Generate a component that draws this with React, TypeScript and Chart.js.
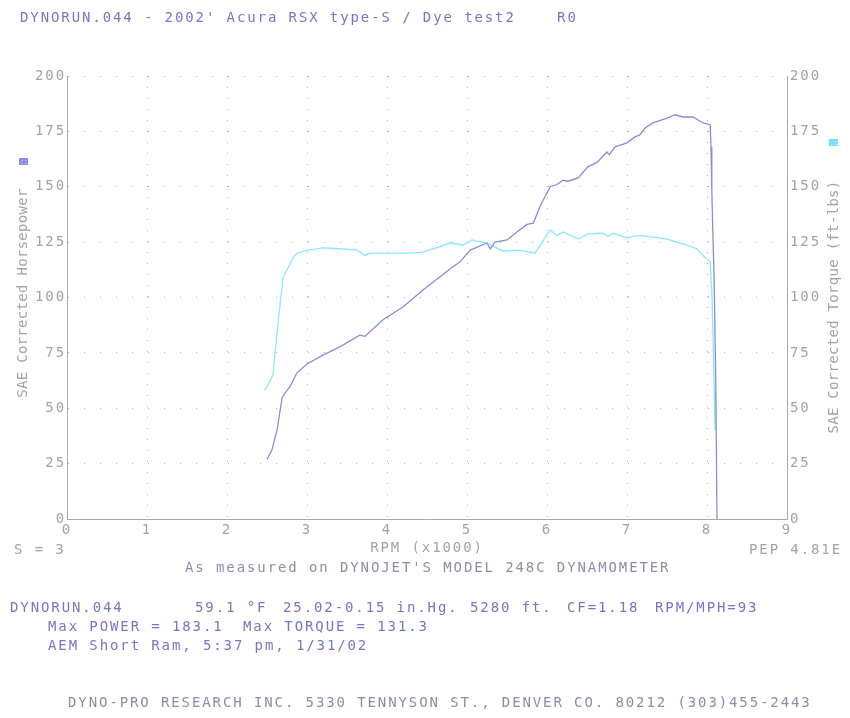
import React, { useEffect, useRef } from "react";
import { Chart, registerables } from "chart.js";

Chart.register(...registerables);

// ---- data (RPM in thousands) ----
const hpRpm = [2.5, 2.56, 2.625, 2.69, 2.79, 2.875, 3.0, 3.2, 3.41, 3.66, 3.725, 3.95, 4.2, 4.45, 4.79, 4.91, 5.04, 5.25, 5.29, 5.35, 5.5, 5.625, 5.75, 5.83, 5.91, 6.04, 6.125, 6.2, 6.26, 6.39, 6.51, 6.625, 6.75, 6.78, 6.85, 7.0, 7.1, 7.16, 7.225, 7.325, 7.5, 7.6, 7.7, 7.825, 7.94, 8.01, 8.04, 8.05, 8.06, 8.075, 8.09, 8.11, 8.125];
const hpValues = [27, 31, 40, 55, 60, 66, 70, 74, 77.7, 83, 82.5, 90, 95.7, 103.4, 113, 116, 121.4, 124.6, 122, 125, 126, 129.6, 133, 133.6, 141, 150, 151, 153, 152.5, 154, 159, 161, 165.7, 164.5, 168, 169.8, 172.5, 173.4, 176.5, 178.8, 181, 182.5, 181.5, 181.5, 179, 178.3, 178, 168, 148.5, 127, 107, 61, 0];

const tqRpm = [2.475, 2.575, 2.625, 2.7, 2.825, 2.875, 3.01, 3.2, 3.41, 3.625, 3.725, 3.79, 4.0, 4.29, 4.45, 4.575, 4.79, 4.95, 5.06, 5.25, 5.45, 5.66, 5.85, 6.04, 6.125, 6.2, 6.39, 6.51, 6.7, 6.76, 6.825, 7.0, 7.1, 7.2, 7.325, 7.5, 7.625, 7.75, 7.875, 7.975, 8.04, 8.06, 8.075, 8.09, 8.1];
const tqValues = [58, 65, 84, 109, 118, 120, 121.4, 122.4, 122, 121.4, 119, 120, 120, 120, 120.5, 122, 124.6, 123.7, 126, 124.6, 121, 121.4, 120, 130.5, 128, 129.6, 126.4, 128.7, 129, 127.5, 129, 126.9, 127.8, 127.8, 127.3, 126.4, 125, 123.7, 121.9, 118, 116, 103, 84, 58, 40];

const rpmMin = 0;
const rpmMax = 9;
const rpmStep = 1;
const yMin = 0;
const yMax = 200;
const yStep = 25;

const leftTitle = "SAE Corrected Horsepower";
const rightTitle = "SAE Corrected Torque (ft-lbs)";
const xTitle = "RPM (x1000)";

const FONT = '"DejaVu Sans Mono", monospace';
const GRAY = "#a2a2aa";
const BLUE = "#7676c8";

const textBase: React.CSSProperties = {
  position: "absolute",
  fontFamily: FONT,
  fontSize: "14px",
  lineHeight: "14px",
  letterSpacing: "1.9px",
  whiteSpace: "pre",
  color: BLUE,
};

function T({ x, y, c, s }: { x: number; y: number; c?: string; s: string }) {
  return <div style={{ ...textBase, left: x, top: y - 7, color: c || BLUE }}>{s}</div>;
}

export default function App() {
  const ref = useRef<HTMLCanvasElement>(null);

  useEffect(() => {
    document.body.style.margin = "0";
    const canvas = ref.current!;
    const spacing = {
      id: "spacing",
      beforeLayout(chart: any) {
        chart.ctx.letterSpacing = "1.9px";
      },
      beforeDraw(chart: any) {
        chart.ctx.letterSpacing = "1.9px";
      },
      afterDraw(chart: any) {
        const c = chart.ctx;
        const drawV = (text: string, x: number, y: number) => {
          c.save();
          c.letterSpacing = "0.3px";
          c.font = `14px ${FONT}`;
          c.fillStyle = GRAY;
          c.textAlign = "center";
          c.textBaseline = "middle";
          c.translate(x, y);
          c.rotate(-Math.PI / 2);
          c.fillText(text, 0, 0);
          c.restore();
        };
        drawV(leftTitle, 23, 293);
        drawV(rightTitle, 834, 307);
        // legend swatches
        c.save();
        c.fillStyle = "#8c8ce0";
        c.fillRect(19, 158, 9, 7);
        c.fillStyle = "#b4b4f0";
        c.fillRect(21, 160, 2, 1);
        c.fillRect(25, 160, 2, 1);
        c.fillRect(21, 163, 2, 1);
        c.fillRect(25, 163, 2, 1);
        c.fillStyle = "#6ee0f8";
        c.fillRect(829, 139, 9, 7);
        c.fillStyle = "#a8f0fc";
        c.fillRect(831, 141, 2, 1);
        c.fillRect(835, 141, 2, 1);
        c.fillRect(831, 144, 2, 1);
        c.fillRect(835, 144, 2, 1);
        c.restore();
      },
    };

    const tickFont = { family: FONT, size: 14 };
    const chart = new Chart(canvas, {
      type: "line",
      data: {
        datasets: [
          {
            label: leftTitle,
            data: hpRpm.map((x, i) => ({ x, y: hpValues[i] })),
            yAxisID: "y",
            borderColor: "#878dd8",
            borderWidth: 1.3,
            pointRadius: 0,
            fill: false,
            tension: 0,
          },
          {
            label: rightTitle,
            data: tqRpm.map((x, i) => ({ x, y: tqValues[i] })),
            yAxisID: "y2",
            borderColor: "#86eaf8",
            borderWidth: 1.3,
            pointRadius: 0,
            fill: false,
            tension: 0,
          },
        ],
      },
      options: {
        responsive: false,
        animation: false,
        layout: { padding: { left: 8, right: 2, top: 76, bottom: 159 } },
        plugins: {
          legend: { display: false },
          title: { display: false },
          tooltip: { enabled: false },
        },
        scales: {
          x: {
            type: "linear",
            min: rpmMin,
            max: rpmMax,
            ticks: { stepSize: rpmStep, color: GRAY, font: tickFont, padding: 3, autoSkip: false, maxRotation: 0 },
            grid: { color: "#a8a8a8", drawTicks: false, lineWidth: 1 },
            border: { display: true, color: "#a8a8b4", dash: [1, 10] },
            title: { display: true, text: xTitle, color: GRAY, font: tickFont, padding: { top: 0, bottom: 2 } },
            afterFit: (s: any) => {
              s.height = 40;
            },
          },
          y: {
            position: "left",
            min: yMin,
            max: yMax,
            ticks: { stepSize: yStep, color: GRAY, font: tickFont, padding: 1 },
            grid: { color: "#a8a8a8", drawTicks: false, lineWidth: 1 },
            border: { display: true, color: "#a8a8b4", dash: [1, 15] },
            afterFit: (s: any) => {
              s.width = 59;
            },
          },
          y2: {
            position: "right",
            min: yMin,
            max: yMax,
            ticks: { stepSize: yStep, color: GRAY, font: tickFont, padding: 3 },
            grid: { drawOnChartArea: false, drawTicks: false },
            border: { display: true, color: "#a8a8b4" },
            afterFit: (s: any) => {
              s.width = 61;
            },
          },
        },
      },
      plugins: [spacing],
    } as any);
    return () => chart.destroy();
  }, []);

  return (
    <div style={{ position: "relative", width: 850, height: 718, background: "#fff", overflow: "hidden" }}>
      <canvas ref={ref} width={850} height={718} style={{ position: "absolute", left: 0, top: 0, display: "block" }} />
      <T x={20} y={17} s={"DYNORUN.044 - 2002' Acura RSX type-S / Dye test2    R0"} />
      <T x={14} y={549} c={GRAY} s={"S = 3"} />
      <T x={749} y={549} c={GRAY} s={"PEP 4.81E"} />
      <T x={185} y={567} c={"#8e8ea6"} s={"As measured on DYNOJET'S MODEL 248C DYNAMOMETER"} />
      <T x={10} y={607} s={"DYNORUN.044"} />
      <T x={195} y={607} s={"59.1 °F"} />
      <T x={283} y={607} s={"25.02-0.15 in.Hg."} />
      <T x={470} y={607} s={"5280 ft."} />
      <T x={567} y={607} s={"CF=1.18"} />
      <T x={655} y={607} s={"RPM/MPH=93"} />
      <T x={48} y={626} s={"Max POWER = 183.1"} />
      <T x={243} y={626} s={"Max TORQUE = 131.3"} />
      <T x={48} y={645} s={"AEM Short Ram, 5:37 pm, 1/31/02"} />
      <T x={68} y={702} c={"#8c8ca8"} s={"DYNO-PRO RESEARCH INC. 5330 TENNYSON ST., DENVER CO. 80212 (303)455-2443"} />
    </div>
  );
}
